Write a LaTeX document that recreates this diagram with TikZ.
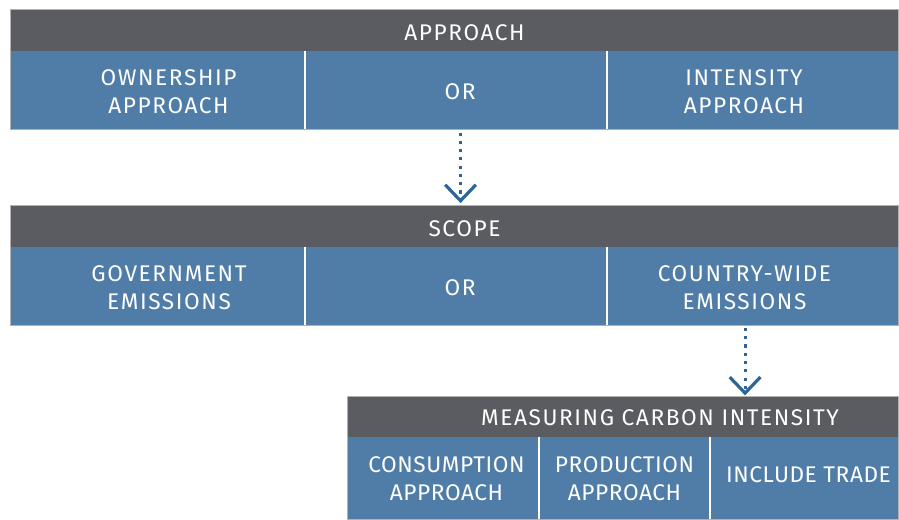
\documentclass[tikz,border=0pt]{standalone}
\usepackage{fontspec}
\setmainfont{Fira Sans}[LetterSpace=7]
\usetikzlibrary{arrows.meta}
\definecolor{headgray}{HTML}{5B5C61}
\definecolor{cellblue}{HTML}{4F7DA8}
\definecolor{arrowblue}{HTML}{2E6598}
\tikzset{
	box/.style 2 args={rectangle, inner sep=0pt, minimum width=#1*0.75pt,
		minimum height=#2*0.75pt},
	hdr/.style={fill=headgray},
	cell/.style={fill=cellblue},
	txt/.style n args={3}{label={[text=white, align=center, inner sep=0pt,
		xshift=#1*0.75pt, yshift=-#2*0.75pt]center:#3}},
	divider/.style={draw=white, line width=1.3pt},
	frame/.style={draw=black!30, line width=0.7pt},
	flow/.style={draw=arrowblue, line width=2.3pt, dash pattern=on 2.3pt off 3.9pt,
		-{Straight Barb[length=12pt, width=23pt, line width=2.4pt]}}
}
\begin{document}
\begin{tikzpicture}[x=0.75pt, y=-0.75pt,
		every label/.style={font=\fontsize{17}{21}\selectfont}]
	\useasboundingbox (0,0) rectangle (899,519);
	% approach
	\node[box={887}{41}, hdr, txt={10}{2}{APPROACH}] (approach) at (454.5,30.5) {};
	\node[box={294}{78}, cell, txt={10.5}{2}{OWNERSHIP\\APPROACH}] (own) at (158,90) {};
	\node[box={302}{78}, cell, txt={4}{2}{OR}] (or1) at (456,90) {};
	\node[box={291}{78}, cell, txt={-8.5}{2}{INTENSITY\\APPROACH}] (intens) at (752.5,90) {};
	% scope
	\node[box={887}{41}, hdr, txt={10}{2}{SCOPE}] (scope) at (454.5,226.5) {};
	\node[box={294}{78}, cell, txt={11}{2}{GOVERNMENT\\EMISSIONS}] (gov) at (158,286) {};
	\node[box={302}{78}, cell, txt={4}{2}{OR}] (or2) at (456,286) {};
	\node[box={291}{78}, cell, txt={-8}{2}{COUNTRY-WIDE\\EMISSIONS}] (country) at (752.5,286) {};
	% carbon intensity
	\node[box={550}{40}, hdr, txt={37}{1}{MEASURING CARBON INTENSITY}] (measure) at (623,417) {};
	\begin{scope}[every label/.style={font=\fontsize{17}{21}\selectfont\addfontfeature{LetterSpace=2.5}}]
	\node[box={191}{82}, cell, txt={3}{1}{CONSUMPTION\\APPROACH}] (cons) at (443.5,478) {};
	\node[box={171}{82}, cell, txt={0}{1}{PRODUCTION\\APPROACH}] (prod) at (624.5,478) {};
	\node[box={188}{82}, cell, txt={4.5}{-3}{INCLUDE TRADE}] (trade) at (804,478) {};
	\end{scope}

	\foreach \c in {own,or1,gov,or2,cons,prod}
		\draw[divider] (\c.north east) -- (\c.south east);
	\draw[frame] (approach.north west) rectangle (intens.south east);
	\draw[frame] (scope.north west) rectangle (country.south east);
	\draw[frame] (measure.north west) rectangle (trade.south east);

	\draw[flow] ([xshift=3.4pt, yshift=-2.5pt]or1.south)
		-- ([xshift=3.4pt, yshift=2pt]or1.south |- scope.north);
	\draw[flow] ([xshift=-5.6pt, yshift=-2pt]country.south)
		-- ([xshift=-5.6pt, yshift=1pt]country.south |- measure.north);
\end{tikzpicture}
\end{document}
